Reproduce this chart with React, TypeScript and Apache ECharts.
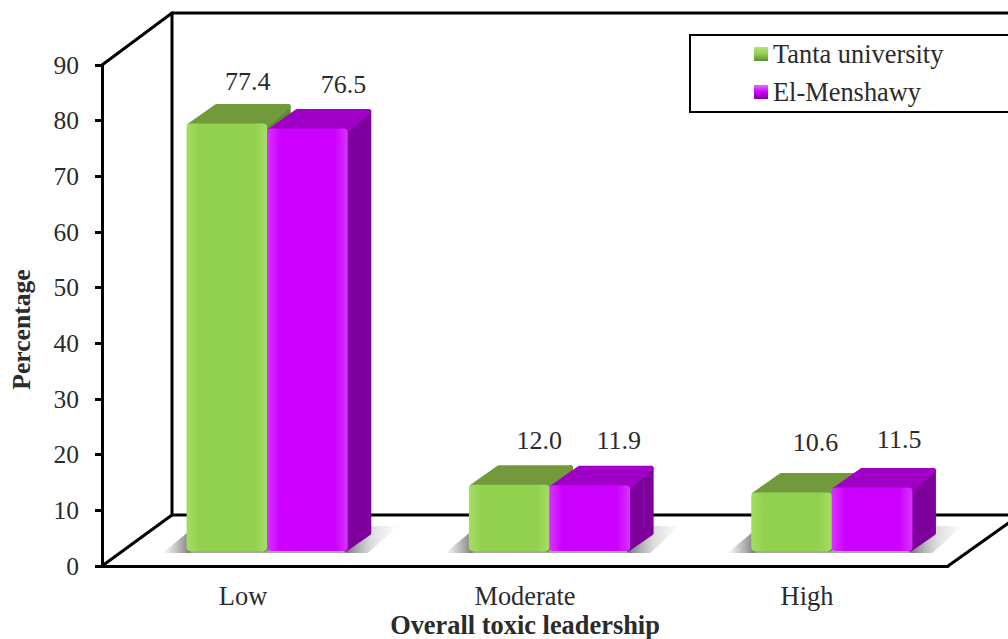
import React, { useEffect, useRef } from "react";
import * as echarts from "echarts";

const categories = ["Low", "Moderate", "High"];
const seriesNames = ["Tanta university", "El-Menshawy"];
const tantaValues = [77.4, 12.0, 10.6];
const menshawyValues = [76.5, 11.9, 11.5];
const yTicks = { min: 0, max: 90, interval: 10 };

const FONT = '"Liberation Serif", "Times New Roman", serif';
const TEXT = "#2b2b2b";
const DEPTH_X = 24;
const DEPTH_Y = 20;

const palette = [
  { front: "#92D050", edge: "#A4DE62", top: "#729A3C", side: "#5F8A30" },
  { front: "#CC00FF", edge: "#D633FF", top: "#A000C6", side: "#7E009C" },
];
// per-bar nudges of the value labels, as placed in the picture: [dx, dy]
const labelNudge = [
  [[21, -42], [36, -44]],
  [[30, -44], [29, -45]],
  [[24, -50], [27, -48]],
];

const LEGEND_ICONS = [
  ["#B6E27E", "#92D050", "#5F8A30"],
  ["#E36BFF", "#CC00FF", "#7E009C"],
];

function gradient(stops: string[], horizontal = false) {
  return new echarts.graphic.LinearGradient(0, 0, horizontal ? 1 : 0, horizontal ? 0 : 1,
    stops.map((color, i) => ({ offset: i / (stops.length - 1), color })));
}

function barRenderer(seriesIdx: number) {
  return (_params: any, api: any) => {
    const cat = api.value(0);
    const val = api.value(1);
    const base = api.coord([cat, 0]);
    const top = api.coord([cat, val]);
    const w = api.size([1, 0])[0] * 0.2855;
    const L = base[0] + (seriesIdx === 0 ? -w : 0);
    const R = L + w;
    const yT = top[1];
    const yB = base[1];
    const c = palette[seriesIdx];
    const nudge = labelNudge[cat][seriesIdx];
    return {
      type: "group",
      children: [
        {
          type: "polygon",
          shape: { points: [[R - 2, yT + 2], [R + DEPTH_X - 3, yT - DEPTH_Y + 3], [R + DEPTH_X - 3, yB - DEPTH_Y + 2], [R - 2, yB - 2]] },
          style: { fill: c.side, stroke: c.side, lineWidth: 5, lineJoin: "round" },
        },
        {
          type: "polygon",
          shape: { points: [[L + 3, yT + 2], [L + DEPTH_X + 6, yT - DEPTH_Y + 3], [R + DEPTH_X - 3, yT - DEPTH_Y + 3], [R - 2, yT + 2]] },
          style: { fill: c.top, stroke: c.top, lineWidth: 5, lineJoin: "round" },
        },
        {
          type: "rect",
          shape: { x: L, y: yT, width: w, height: yB - yT, r: 4 },
          style: { fill: gradient([c.edge, c.front, c.front, c.front, c.front, c.front, c.edge], true) },
        },
        {
          type: "text",
          style: {
            x: (L + R) / 2 + nudge[0],
            y: yT + nudge[1],
            text: api.value(1).toFixed(1),
            font: `26px ${FONT}`,
            fill: TEXT,
            align: "center",
            verticalAlign: "middle",
          },
        },
      ],
    };
  };
}

function shadowRenderer(_params: any, api: any) {
  const base = api.coord([api.value(0), 0]);
  const w = api.size([1, 0])[0] * 0.2855;
  const L = base[0] - w;
  const R = base[0] + w;
  const yB = base[1];
  return {
    type: "group",
    children: [
      {
        type: "polygon",
        shape: { points: [[L - 24, yB + 2], [L + 4, yB + 2], [L + 4, yB - 21]] },
        style: { fill: gradient(["rgba(110,110,110,0)", "rgba(90,90,90,0.8)"], true) },
      },
      {
        type: "polygon",
        shape: { points: [[R + 22, yB - 25], [R + 50, yB - 25], [R + 20, yB + 2], [R - 3, yB + 2]] },
        style: { fill: gradient(["rgba(90,90,90,0.85)", "rgba(140,140,140,0.3)", "rgba(150,150,150,0)"], true) },
      },
      {
        type: "rect",
        shape: { x: L, y: yB - 1, width: 2 * w, height: 3 },
        style: { fill: "rgba(130,130,130,0.7)" },
      },
    ],
  };
}

const wallLine = (x1: number, y1: number, x2: number, y2: number) => ({
  type: "line",
  shape: { x1, y1, x2, y2 },
  style: { stroke: "#000", lineWidth: 3, lineCap: "round" },
});

export default function App() {
  const ref = useRef<HTMLDivElement>(null);
  useEffect(() => {
    document.body.style.margin = "0";
    const chart = echarts.init(ref.current!, undefined, { renderer: "svg" });
    const axisFont = { fontFamily: FONT, fontSize: 26.4, color: TEXT };
    chart.setOption({
      animation: false,
      backgroundColor: "#fff",
      grid: [
        { left: 102, top: 65, width: 846, height: 501, outerBoundsMode: "none" },
        { left: 126, top: 54, width: 847, height: 497, outerBoundsMode: "none" },
      ],
      xAxis: [
        {
          type: "category",
          gridIndex: 0,
          data: categories,
          axisLine: { lineStyle: { color: "#000", width: 3 } },
          axisTick: { length: 8, lineStyle: { color: "#000", width: 3 } },
          axisLabel: { ...axisFont, margin: 17 },
          name: "Overall toxic leadership",
          nameLocation: "middle",
          nameGap: 46,
          nameMoveOverlap: false,
          nameTextStyle: { ...axisFont, fontWeight: "bold" },
        },
        { type: "category", gridIndex: 1, data: categories, show: false },
      ],
      yAxis: [
        {
          type: "value",
          gridIndex: 0,
          ...yTicks,
          axisLine: { show: true, lineStyle: { color: "#000", width: 3 } },
          axisTick: { show: true, length: 7, lineStyle: { color: "#000", width: 3 } },
          axisLabel: { ...axisFont, fontSize: 25.5, margin: 23 },
          splitLine: { show: false },
          name: "Percentage",
          nameLocation: "middle",
          nameGap: 68,
          nameRotate: 90,
          nameTextStyle: { ...axisFont, fontSize: 25.6, fontWeight: "bold", padding: [0, 28, 0, 0] },
        },
        { type: "value", gridIndex: 1, ...yTicks, show: false },
      ],
      legend: {
        left: 749,
        top: 36,
        orient: "vertical",
        itemWidth: 14,
        itemHeight: 14,
        itemGap: 12,
        textStyle: { ...axisFont },
        data: seriesNames.map((name, i) => ({
          name,
          icon: "rect",
          itemStyle: { color: gradient(LEGEND_ICONS[i]) },
        })),
      },
      graphic: [
        wallLine(102, 65, 172, 13),
        wallLine(172, 13, 172, 515),
        wallLine(172, 13, 1008, 13),
        wallLine(102, 566, 172, 515),
        wallLine(172, 515, 1008, 515),
        wallLine(948, 566, 1010, 522),
        {
          type: "rect",
          shape: { x: 690, y: 35, width: 330, height: 77 },
          style: { fill: "#fff", stroke: "#000", lineWidth: 2 },
        },
      ],
      series: [
        {
          type: "custom",
          name: "floor shadow",
          xAxisIndex: 1,
          yAxisIndex: 1,
          z: 1,
          silent: true,
          renderItem: shadowRenderer,
          data: categories.map((_, i) => [i, 0]),
        },
        {
          type: "custom",
          name: seriesNames[0],
          xAxisIndex: 1,
          yAxisIndex: 1,
          z: 2,
          renderItem: barRenderer(0),
          encode: { x: 0, y: 1 },
          itemStyle: { color: palette[0].front },
          data: tantaValues.map((v, i) => [i, v]),
        },
        {
          type: "custom",
          name: seriesNames[1],
          xAxisIndex: 1,
          yAxisIndex: 1,
          z: 3,
          renderItem: barRenderer(1),
          encode: { x: 0, y: 1 },
          itemStyle: { color: palette[1].front },
          data: menshawyValues.map((v, i) => [i, v]),
        },
      ],
    });
    return () => chart.dispose();
  }, []);
  return (
    <div
      ref={ref}
      style={{ position: "fixed", left: 0, top: 0, width: 1008, height: 639, overflow: "hidden" }}
    />
  );
}
